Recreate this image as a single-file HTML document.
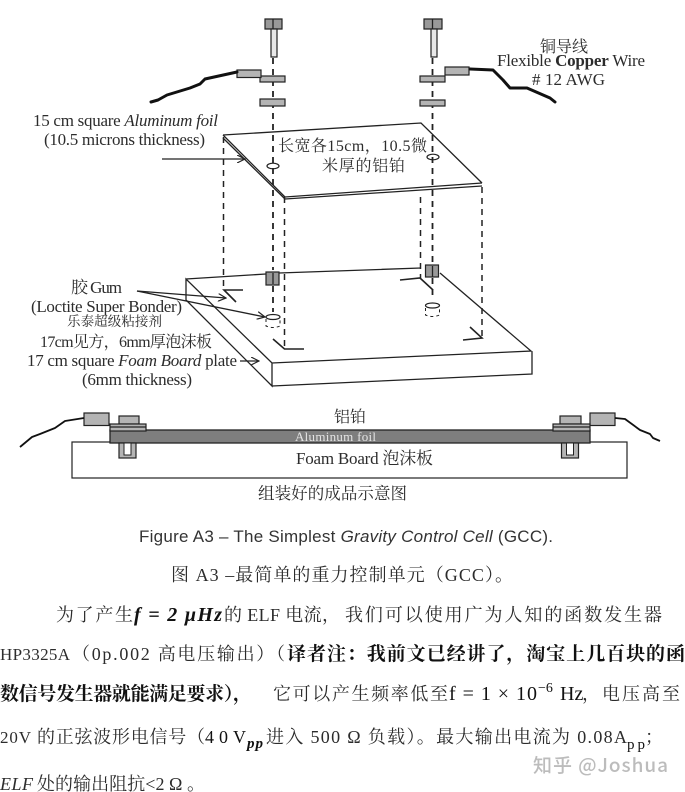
<!DOCTYPE html>
<html>
<head>
<meta charset="utf-8">
<style>
html,body{margin:0;padding:0;background:#fff;width:685px;height:792px;overflow:hidden}
svg{display:block;filter:blur(0.3px)}
.s{font-family:"Liberation Serif","Noto Serif CJK SC",serif;fill:#2c2c2c}
.c{font-family:"Noto Serif CJK SC","Liberation Serif",serif;fill:#2c2c2c}
.b{font-family:"Liberation Serif","Noto Serif CJK SC",serif;fill:#111}
.l{fill:none;stroke:#222;stroke-width:1.3}
.d{fill:none;stroke:#222;stroke-width:1.8;stroke-dasharray:6 5}
.g{fill:#b4b4b4;stroke:#222;stroke-width:1.2}
.w{fill:none;stroke:#111;stroke-width:3;stroke-linejoin:round;stroke-linecap:round}
</style>
</head>
<body>
<svg width="685" height="792" viewBox="0 0 685 792" xmlns="http://www.w3.org/2000/svg">
<defs>
<marker id="a" markerWidth="9" markerHeight="8" refX="8" refY="4" orient="auto" markerUnits="userSpaceOnUse"><path d="M0 0L8 4L0 8" fill="none" stroke="#222" stroke-width="1.2"/></marker>
</defs>
<g>
<!-- dashed guides -->
<path class="d" d="M273 58V270M273 286V312"/>
<path class="d" d="M432.5 58V262M432.5 278V300"/>
<path class="d" style="stroke-width:1.5" d="M223.5 137V290M284.5 197V349M420.5 197V278M482 187V338"/>
<!-- left bolt -->
<path class="g" d="M265 19H282V29H265Z" style="fill:#999"/><path class="l" d="M273 19V29"/>
<rect class="g" x="271" y="29" width="6" height="28" style="fill:#e8e8e8"/>
<rect class="g" x="260" y="76" width="25" height="6"/>
<rect class="g" x="260" y="99" width="25" height="7"/>
<rect class="g" x="237" y="70" width="24" height="7.5"/>
<path class="w" d="M237 72L205 79L200 84L190 88L167 95L158 100L151 102"/>
<!-- right bolt -->
<path class="g" d="M424 19H442V29H424Z" style="fill:#999"/><path class="l" d="M432.5 19V29"/>
<rect class="g" x="431" y="29" width="6" height="28" style="fill:#e8e8e8"/>
<rect class="g" x="420" y="76" width="25" height="6"/>
<rect class="g" x="420" y="100" width="25" height="6"/>
<rect class="g" x="445" y="67" width="24" height="8"/>
<path class="w" d="M470 69L493 70L503 80L510 88L527 88L550 98L555 102"/>
<!-- foil -->
<path class="l" d="M223 135L421 123L482 183M223 135L285 197L482 183M223 138L285 199M285 199L482 186"/>
<ellipse cx="273" cy="166" rx="6" ry="2.8" fill="none" stroke="#222" stroke-width="1.2"/>
<ellipse cx="433" cy="157" rx="6" ry="2.8" fill="none" stroke="#222" stroke-width="1.2"/>
<!-- foam -->
<path class="l" d="M186 279L266 274M279 273L421 268M440 273L531 351L272 363L186 279V300L272 386V363M272 386L532 374V351"/>
<!-- glue -->
<rect class="g" x="266" y="272" width="13" height="13" style="fill:#999"/><path class="l" d="M273 273V284"/>
<rect class="g" x="425.500" y="265" width="13" height="12" style="fill:#999"/><path class="l" d="M432.500 266V277"/>
<ellipse cx="273" cy="317" rx="7" ry="2.5" fill="#fff" stroke="#222" stroke-width="1.2"/>
<path d="M266 319V326Q273 329 280 326V319" fill="none" stroke="#222" stroke-width="1" stroke-dasharray="3 3"/>
<ellipse cx="432.500" cy="305.500" rx="7" ry="2.500" fill="#fff" stroke="#222" stroke-width="1.2"/>
<path d="M425.500 308V315Q432.500 318 439.500 315V308" fill="none" stroke="#222" stroke-width="1" stroke-dasharray="3 3"/>
<!-- corner marks -->
<path class="l" style="stroke-width:1.6" d="M243 290H224L236 302M304 349H284.500L273 339M400 280L420 278L433 290M463 340L482 338L470 327"/>
<!-- arrows -->
<path class="l" marker-end="url(#a)" d="M162 159H245"/>
<path class="l" marker-end="url(#a)" d="M137 291L226 298"/>
<path class="l" marker-end="url(#a)" d="M137 291L265 317"/>
<path class="l" marker-end="url(#a)" d="M240 361H259"/>
<!-- assembled view -->
<rect x="72" y="442" width="555" height="36" fill="#fff" stroke="#222" stroke-width="1.2"/>
<rect x="110" y="430" width="480" height="13" fill="#7e7e7e" stroke="#222" stroke-width="1.3"/>
<rect class="g" x="84" y="413" width="25" height="12.500"/>
<rect class="g" x="590" y="413" width="25" height="12.500"/>
<path fill="none" stroke="#111" stroke-width="1.800" stroke-linejoin="round" d="M84 418L65 421L55 428L40 434L32 437L20 447"/>
<path fill="none" stroke="#111" stroke-width="1.800" stroke-linejoin="round" d="M615 418L625 419L640 430L650 434L653 438L660 441"/>
<rect class="g" x="119" y="416" width="20" height="8"/>
<rect class="g" x="560" y="416" width="21" height="8"/>
<rect class="g" x="110" y="424" width="36" height="7"/><path class="l" d="M110 427H146"/>
<rect class="g" x="553" y="424" width="37" height="7"/><path class="l" d="M553 427H590"/>
<rect class="g" x="119" y="443" width="17" height="15"/><rect x="124" y="443" width="7" height="12" fill="#fff" stroke="#222"/>
<rect class="g" x="561.500" y="443" width="17" height="15"/><rect x="566.500" y="443" width="7" height="12" fill="#fff" stroke="#222"/>
<!-- diagram labels -->
<text class="s" font-size="17" x="33" y="126" textLength="185">15 cm square <tspan font-style="italic">Aluminum foil</tspan></text>
<text class="s" font-size="17" x="44" y="145" textLength="161">(10.5 microns thickness)</text>
<text class="s" font-size="16" x="278" y="151" textLength="149">长宽各15cm，10.5微</text>
<text class="c" font-size="16" x="322" y="171" textLength="83">米厚的铝铂</text>
<text class="c" font-size="16" x="540" y="52" textLength="48">铜导线</text>
<text class="s" font-size="17" x="497" y="66" textLength="148">Flexible <tspan font-weight="bold">Copper</tspan> Wire</text>
<text class="s" font-size="17" x="532" y="85" textLength="73"># 12 AWG</text>
<text class="s" font-size="17" x="71" y="293" textLength="51">胶 Gum</text>
<text class="s" font-size="17" x="31" y="312" textLength="151">(Loctite Super Bonder)</text>
<text class="c" font-size="13.500" x="67" y="326" textLength="95">乐泰超级粘接剂</text>
<text class="s" font-size="16" x="40" y="347" textLength="172">17cm见方，6mm厚泡沫板</text>
<text class="s" font-size="17" x="27" y="366" textLength="210">17 cm square <tspan font-style="italic">Foam Board</tspan> plate</text>
<text class="s" font-size="17" x="82" y="385" textLength="110">(6mm thickness)</text>
<text class="c" font-size="16" x="334" y="422" textLength="32">铝铂</text>
<text class="s" font-size="13" x="295" y="441" textLength="81" style="fill:#e4e4e4">Aluminum foil</text>
<text class="s" font-size="17" x="296" y="464" textLength="137">Foam Board 泡沫板</text>
<text class="c" font-size="16.500" x="258" y="499" textLength="149">组装好的成品示意图</text>
<!-- caption -->
<text font-family="Liberation Sans,sans-serif" font-size="17" fill="#333" x="139" y="542" textLength="414">Figure A3 – The Simplest <tspan font-style="italic">Gravity Control Cell</tspan> (GCC).</text>
<text class="s" font-size="18" x="171" y="581" textLength="342">图 A3 –最简单的重力控制单元（GCC）。</text>
<!-- body text -->
<text class="c" font-size="18" x="56" y="621" textLength="77">为了产生</text>
<text class="s" font-size="20" font-style="italic" x="134" y="621" textLength="88" style="fill:#111;font-weight:bold">f = 2 μHz</text>
<text class="s" font-size="18" x="224" y="621" textLength="116">的 ELF 电流，</text>
<text class="c" font-size="18" x="345" y="621" textLength="317">我们可以使用广为人知的函数发生器</text>
<text class="s" font-size="17" x="0" y="660" textLength="70">HP3325A</text>
<text class="s" font-size="18" x="72" y="660" textLength="213">（0p.002 高电压输出）（</text>
<text class="b" font-size="19" font-weight="bold" x="287" y="660" textLength="398">译者注：我前文已经讲了，淘宝上几百块的函</text>
<text class="b" font-size="19" font-weight="bold" x="0" y="700" textLength="252">数信号发生器就能满足要求），</text>
<text class="c" font-size="18" x="273" y="700" textLength="175">它可以产生频率低至</text>
<text class="s" font-size="20" x="449" y="700" textLength="88" style="fill:#111">f = 1 × 10</text>
<text class="s" font-size="14" x="538" y="692" style="fill:#111">−6</text>
<text class="s" font-size="20" x="560" y="700" style="fill:#111">Hz</text>
<text class="c" font-size="18" x="582" y="700" textLength="98">，电压高至</text>
<text class="s" font-size="17" x="0" y="743" textLength="31">20V</text>
<text class="c" font-size="18" x="37" y="743" textLength="168">的正弦波形电信号（</text>
<text class="s" font-size="18" x="205" y="743" textLength="41" style="fill:#111">40V</text>
<text class="s" font-size="15" font-style="italic" font-weight="bold" x="247" y="748" textLength="16" style="fill:#111">pp</text>
<text class="s" font-size="18" x="266" y="743" textLength="361">进入 500 Ω 负载）。最大输出电流为 0.08A</text>
<text class="s" font-size="15" x="627" y="749" textLength="18" style="fill:#111">pp</text>
<text class="c" font-size="18" x="645" y="743">；</text>
<text class="s" font-size="18" font-style="italic" x="0" y="790" textLength="33">ELF</text>
<text class="s" font-size="18" x="37" y="790" textLength="168">处的输出阻抗&lt;2 Ω 。</text>
<!-- watermark -->
<text font-family="Noto Sans CJK SC,Liberation Sans,sans-serif" font-size="19" font-weight="500" fill="#bcbcbc" x="533" y="772" textLength="135">知乎 @Joshua</text>
</g>
</svg>
</body>
</html>
